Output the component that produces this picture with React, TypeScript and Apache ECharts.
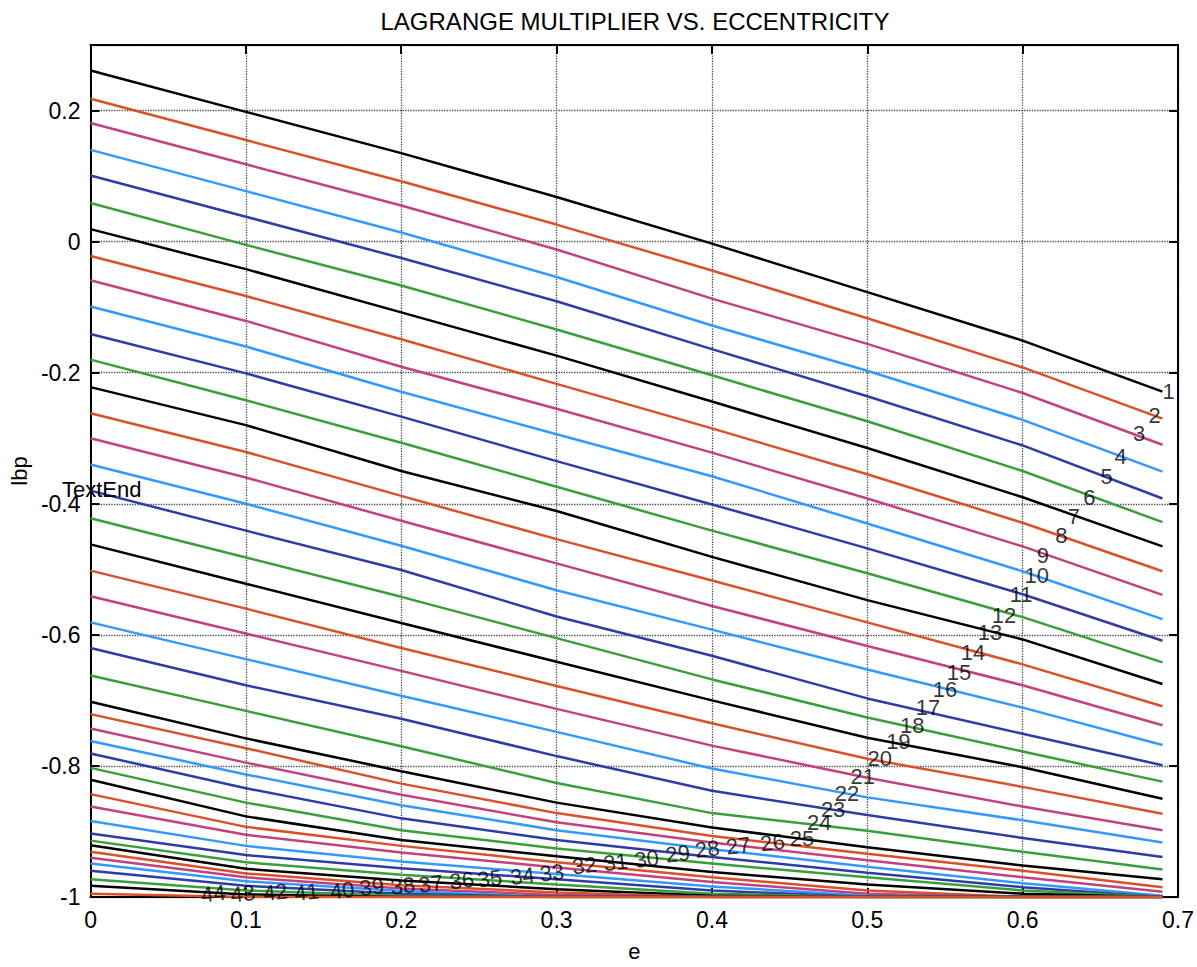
import { useEffect, useRef } from 'react';
import * as echarts from 'echarts';

const FONT = '"Liberation Sans", Arial, sans-serif';

const TITLE = 'LAGRANGE MULTIPLIER VS. ECCENTRICITY';
const X_NAME = 'e';
const Y_NAME = 'lbp';
const NOTE_TEXT = 'TextEnd';

// eccentricity sample positions
const E_VALUES = [0, 0.1, 0.2, 0.3, 0.4, 0.5, 0.6, 0.69];

// lbp values, one array per curve
const L1 = [0.261, 0.198, 0.135, 0.068, -0.003, -0.077, -0.151, -0.229];
const L2 = [0.218, 0.155, 0.092, 0.026, -0.044, -0.117, -0.192, -0.27];
const L3 = [0.181, 0.118, 0.055, -0.012, -0.087, -0.156, -0.231, -0.31];
const L4 = [0.14, 0.077, 0.014, -0.054, -0.128, -0.197, -0.272, -0.351];
const L5 = [0.101, 0.038, -0.025, -0.091, -0.164, -0.236, -0.311, -0.392];
const L6 = [0.059, -0.005, -0.067, -0.134, -0.204, -0.274, -0.35, -0.428];
const L7 = [0.019, -0.042, -0.108, -0.174, -0.244, -0.315, -0.39, -0.465];
const L8 = [-0.022, -0.083, -0.149, -0.217, -0.285, -0.355, -0.429, -0.503];
const L9 = [-0.059, -0.121, -0.191, -0.255, -0.322, -0.392, -0.465, -0.539];
const L10 = [-0.099, -0.16, -0.229, -0.294, -0.358, -0.43, -0.503, -0.576];
const L11 = [-0.141, -0.201, -0.267, -0.335, -0.401, -0.468, -0.538, -0.609];
const L12 = [-0.18, -0.242, -0.307, -0.374, -0.441, -0.506, -0.573, -0.642];
const L13 = [-0.222, -0.28, -0.35, -0.411, -0.481, -0.547, -0.607, -0.675];
const L14 = [-0.262, -0.321, -0.388, -0.454, -0.517, -0.581, -0.645, -0.709];
const L15 = [-0.3, -0.36, -0.426, -0.491, -0.556, -0.617, -0.677, -0.738];
const L16 = [-0.34, -0.4, -0.464, -0.532, -0.592, -0.653, -0.711, -0.768];
const L17 = [-0.38, -0.441, -0.501, -0.572, -0.632, -0.697, -0.751, -0.799];
const L18 = [-0.422, -0.482, -0.542, -0.605, -0.668, -0.726, -0.778, -0.824];
const L19 = [-0.462, -0.522, -0.582, -0.641, -0.7, -0.757, -0.802, -0.85];
const L20 = [-0.502, -0.56, -0.62, -0.678, -0.735, -0.789, -0.832, -0.873];
const L21 = [-0.541, -0.598, -0.655, -0.713, -0.769, -0.818, -0.862, -0.898];
const L22 = [-0.581, -0.637, -0.693, -0.748, -0.804, -0.848, -0.883, -0.917];
const L23 = [-0.62, -0.677, -0.728, -0.785, -0.838, -0.875, -0.91, -0.939];
const L24 = [-0.662, -0.716, -0.77, -0.826, -0.872, -0.899, -0.931, -0.958];
const L25 = [-0.702, -0.758, -0.808, -0.856, -0.894, -0.924, -0.952, -0.973];
const L26 = [-0.721, -0.773, -0.827, -0.872, -0.907, -0.934, -0.96, -0.985];
const L27 = [-0.743, -0.795, -0.844, -0.886, -0.917, -0.944, -0.97, -0.992];
const L28 = [-0.762, -0.813, -0.86, -0.898, -0.927, -0.954, -0.979, -0.998];
const L29 = [-0.781, -0.834, -0.88, -0.913, -0.939, -0.963, -0.985, -1.0];
const L30 = [-0.803, -0.856, -0.898, -0.926, -0.949, -0.97, -0.99, -1.0];
const L31 = [-0.821, -0.877, -0.913, -0.938, -0.962, -0.981, -0.995, -1.0];
const L32 = [-0.843, -0.893, -0.922, -0.947, -0.97, -0.99, -1.0, -1.0];
const L33 = [-0.862, -0.905, -0.932, -0.955, -0.977, -0.995, -1.0, -1.0];
const L34 = [-0.884, -0.922, -0.946, -0.965, -0.984, -0.998, -1.0, -1.0];
const L35 = [-0.903, -0.936, -0.956, -0.973, -0.99, -1.0, -1.0, -1.0];
const L36 = [-0.914, -0.947, -0.966, -0.981, -0.995, -1.0, -1.0, -1.0];
const L37 = [-0.921, -0.957, -0.975, -0.988, -0.998, -1.0, -1.0, -1.0];
const L38 = [-0.931, -0.964, -0.982, -0.993, -1.0, -1.0, -1.0, -1.0];
const L39 = [-0.94, -0.97, -0.987, -0.997, -1.0, -1.0, -1.0, -1.0];
const L40 = [-0.949, -0.976, -0.991, -1.0, -1.0, -1.0, -1.0, -1.0];
const L41 = [-0.96, -0.983, -0.995, -1.0, -1.0, -1.0, -1.0, -1.0];
const L42 = [-0.973, -0.99, -0.998, -1.0, -1.0, -1.0, -1.0, -1.0];
const L43 = [-0.983, -0.996, -1.0, -1.0, -1.0, -1.0, -1.0, -1.0];
const L44 = [-0.995, -1.0, -1.0, -1.0, -1.0, -1.0, -1.0, -1.0];

const LINES = [
  L1, L2, L3, L4, L5, L6, L7, L8, L9, L10, L11, L12, L13, L14, L15, L16, L17, L18, L19, L20, L21, L22,
  L23, L24, L25, L26, L27, L28, L29, L30, L31, L32, L33, L34, L35, L36, L37, L38, L39, L40, L41, L42, L43, L44,
];

// curve number labels: anchor points (e, lbp)
const LABEL_E = [
  0.694, 0.685, 0.675, 0.663, 0.654, 0.643, 0.633, 0.625, 0.613, 0.609, 0.599, 0.588, 0.579, 0.568, 0.559,
  0.55, 0.539, 0.529, 0.52, 0.508, 0.497, 0.487, 0.478, 0.469, 0.458, 0.439, 0.417, 0.397, 0.378, 0.358,
  0.338, 0.318, 0.297, 0.278, 0.257, 0.239, 0.219, 0.201, 0.181, 0.162, 0.139, 0.119, 0.098, 0.079,
];
const LABEL_V = [
  -0.229, -0.266, -0.293, -0.328, -0.358, -0.39, -0.42, -0.449, -0.479, -0.509, -0.539, -0.57, -0.597,
  -0.627, -0.658, -0.683, -0.711, -0.738, -0.763, -0.789, -0.816, -0.842, -0.866, -0.887, -0.91, -0.917,
  -0.922, -0.927, -0.934, -0.942, -0.947, -0.952, -0.963, -0.968, -0.972, -0.975, -0.98, -0.983, -0.985,
  -0.99, -0.993, -0.993, -0.995, -0.995,
];

const COLORS = ['#000000', '#d9512b', '#c2417f', '#3399ff', '#2e3ca6', '#3a9e3a'];

export default function App() {
  const ref = useRef<HTMLDivElement>(null);

  useEffect(() => {
    if (!ref.current) return;
    const chart = echarts.init(ref.current, null, { renderer: 'svg' });

    const lineSeries = LINES.map((vals, i) => ({
      type: 'line',
      name: String(i + 1),
      data: vals.map((v, j) => [E_VALUES[j], v]),
      symbol: 'none',
      showSymbol: false,
      silent: true,
      clip: true,
      lineStyle: { color: COLORS[i % 6], width: 2.5 },
      itemStyle: { color: COLORS[i % 6] },
      z: 2,
    }));

    const labelSeries = {
      type: 'scatter',
      silent: true,
      clip: false,
      symbolSize: 1,
      itemStyle: { color: 'rgba(0,0,0,0)' },
      z: 5,
      label: {
        show: true,
        position: 'inside',
        formatter: '{b}',
        color: '#000',
        fontSize: 22,
        fontFamily: FONT,
      },
      data: LABEL_E.map((e, i) => ({
        name: String(i + 1),
        value: [e, LABEL_V[i]],
        label: { rotate: i >= 25 ? 7 : 0 },
      })),
    };

    const axisLine = { show: true, onZero: false, lineStyle: { color: '#000', width: 2 } };
    const axisTick = { show: true, inside: true, length: 9, lineStyle: { color: '#000', width: 2 } };
    const splitLine = { show: true, lineStyle: { type: 'dotted', color: '#444', width: 1.3 } };

    chart.setOption({
      animation: false,
      backgroundColor: '#fff',
      graphic: [
        {
          type: 'text',
          x: 635,
          y: 21,
          style: {
            text: TITLE,
            fill: '#000',
            font: `24px ${FONT}`,
            textAlign: 'center',
            textVerticalAlign: 'middle',
          },
        },
        {
          type: 'text',
          x: 62,
          y: 489,
          z: 10,
          style: {
            text: NOTE_TEXT,
            fill: '#000',
            font: `22px ${FONT}`,
            textAlign: 'left',
            textVerticalAlign: 'middle',
          },
        },
      ],
      grid: { left: 90, top: 45, width: 1088, height: 862, containLabel: false },
      xAxis: [
        {
          type: 'value',
          min: 0,
          max: 0.7,
          interval: 0.1,
          position: 'bottom',
          name: X_NAME,
          nameLocation: 'middle',
          nameGap: 43,
          nameTextStyle: { fontSize: 22, color: '#000', fontFamily: FONT },
          axisLine,
          axisTick,
          axisLabel: { fontSize: 23, color: '#000', margin: 11, fontFamily: FONT },
          splitLine,
        },
        {
          type: 'value',
          min: 0,
          max: 0.7,
          interval: 0.1,
          position: 'top',
          axisLine,
          axisTick,
          axisLabel: { show: false },
          splitLine: { show: false },
        },
      ],
      yAxis: [
        {
          type: 'value',
          min: -1,
          max: 0.3,
          interval: 0.2,
          position: 'left',
          name: Y_NAME,
          nameLocation: 'middle',
          nameGap: 58,
          nameTextStyle: { fontSize: 22, color: '#000', fontFamily: FONT },
          axisLine,
          axisTick,
          axisLabel: { fontSize: 23, color: '#000', margin: 10, fontFamily: FONT, showMaxLabel: false },
          splitLine,
        },
        {
          type: 'value',
          min: -1,
          max: 0.3,
          interval: 0.2,
          position: 'right',
          axisLine,
          axisTick,
          axisLabel: { show: false },
          splitLine: { show: false },
        },
      ],
      series: [...lineSeries, labelSeries],
    });

    return () => {
      chart.dispose();
    };
  }, []);

  return (
    <div
      ref={ref}
      style={{ position: 'absolute', left: 0, top: 0, width: 1197, height: 967, background: '#fff' }}
    />
  );
}
